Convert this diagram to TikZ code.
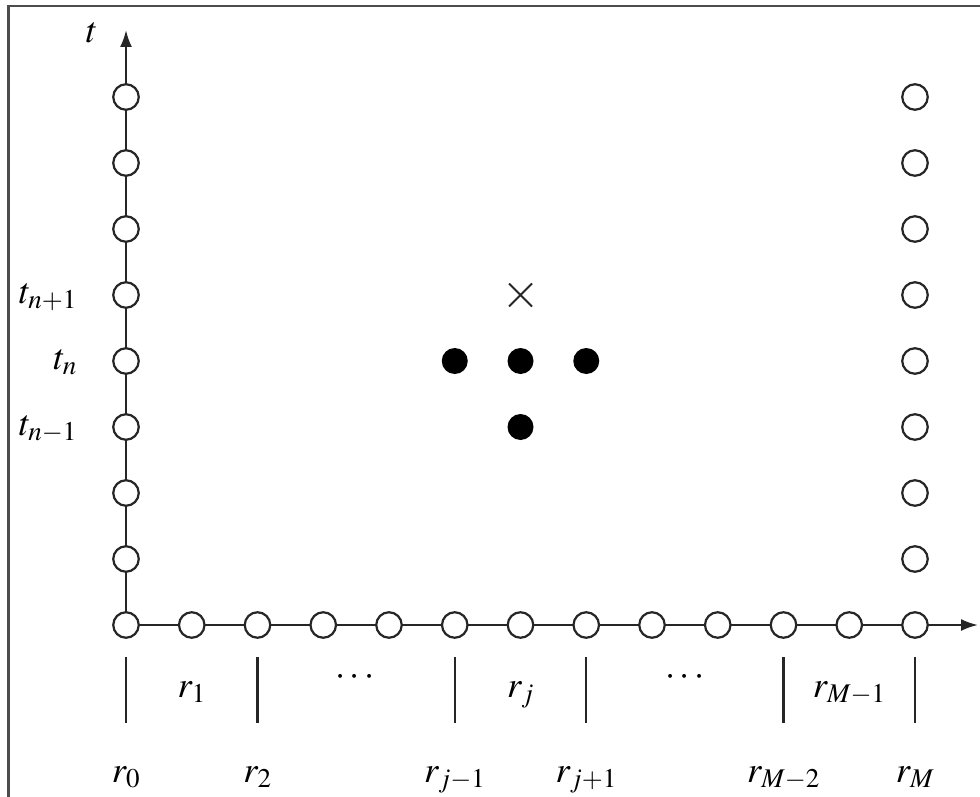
\documentclass[tikz,border=0pt]{standalone}
\usepackage{mathptmx}
\usetikzlibrary{arrows.meta,shapes.misc}
\begin{document}
\begin{tikzpicture}[x=1pt,y=-1pt,
  gridpt/.style={circle,draw=black!85,fill=white,line width=2.2pt,minimum size=25.5pt,inner sep=0pt},
  solpt/.style={circle,fill=black,minimum size=26pt,inner sep=0pt},
  axisline/.style={line width=2.2pt,draw=black!85,-{Latex[length=17pt,width=12pt]}},
  tickline/.style={line width=2.2pt,draw=black!85},
  lab/.style={font=\fontsize{36.5}{40}\selectfont,inner sep=0pt},
  crossmark/.style={cross out,draw=black!85,line width=2pt,minimum size=21pt,inner sep=0pt},
]
\useasboundingbox (0,0) rectangle (980,797);
\draw[line width=2.5pt,black!70] (8.5,797) -- (8.5,6) -- (980,6);

\coordinate (o) at (126,625);
\coordinate (ttip) at (126,30);
\coordinate (rtip) at (978,625);
\draw[axisline] (o) -- (ttip);
\draw[axisline] (o) -- (rtip);

% horizontal grid points
\foreach \i in {0,...,12}
  \node[gridpt] (h\i) at ({126+65.75*\i},625) {};
% left column
\foreach \k in {1,...,8}
  \node[gridpt] (v\k) at (126,{625-66*\k}) {};
% right column
\foreach \k in {1,...,8}
  \node[gridpt] (w\k) at (915,{625-66*\k}) {};

% stencil
\node[solpt] (sl) at (h5 |- v4) {};
\node[solpt] (sc) at (h6 |- v4) {};
\node[solpt] (sr) at (h7 |- v4) {};
\node[solpt] (sb) at (h6 |- v3) {};
\node[crossmark] (sx) at (h6 |- v5) {};

% ticks
\foreach \i in {0,2,5,7,10,12}
  \draw[tickline] (h\i |- 0,657) -- (h\i |- 0,723);

% labels
\node[lab,anchor=base] (tl) at (92,43) {$t$};
\node[lab,anchor=base east] (tn1) at (77,303) {$t_{n+1}$};
\node[lab,anchor=base east] (tn) at (77,369) {$t_{n}$};
\node[lab,anchor=base east] (tnm) at (77,435) {$t_{n-1}$};

\node[lab,anchor=base] (r0) at (h0 |- 0,782) {$r_0$};
\node[lab,anchor=base] (r2) at (h2 |- 0,782) {$r_2$};
\node[lab,anchor=base] (rjm) at (h5 |- 0,782) {$r_{j-1}$};
\node[lab,anchor=base] (rjp) at (h7 |- 0,782) {$r_{j+1}$};
\node[lab,anchor=base] (rMm2) at (h10 |- 0,782) {$r_{M-2}$};
\node[lab,anchor=base] (rM) at (h12 |- 0,782) {$r_M$};

\node[lab,anchor=base] (r1) at (h1 |- 0,697) {$r_1$};
\node[lab,anchor=base] (rj) at (h6 |- 0,697) {$r_j$};
\node[lab,anchor=base] (rMm1) at (h11 |- 0,697) {$r_{M-1}$};
\node[lab,anchor=base] (d1) at (355,685) {$\cdots$};
\node[lab,anchor=base] (d2) at (685,685) {$\cdots$};
\end{tikzpicture}
\end{document}
